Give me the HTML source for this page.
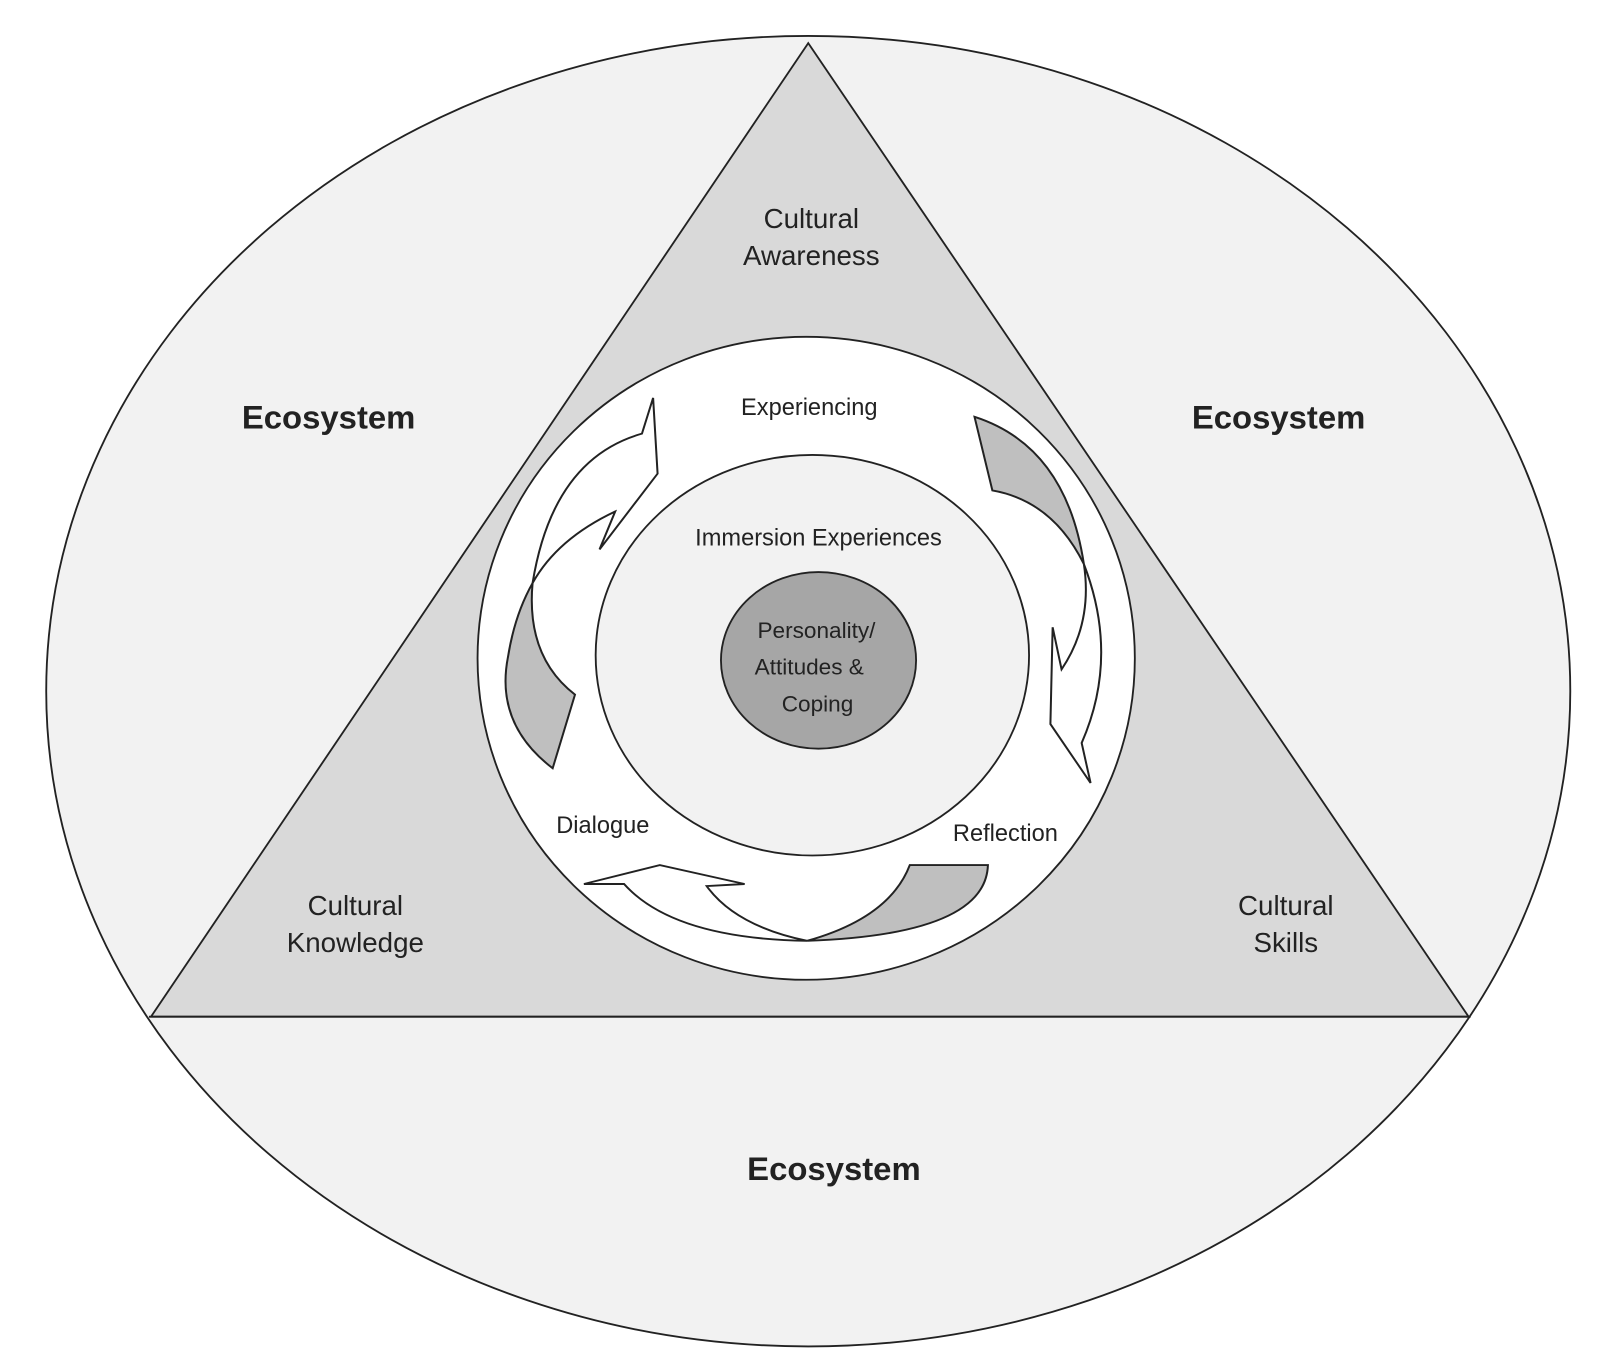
<!DOCTYPE html>
<html><head><meta charset="utf-8"><style>
html,body{margin:0;padding:0;background:#fff;}
svg{display:block;}
text{font-family:"Liberation Sans",sans-serif;fill:#222;text-anchor:middle;}
</style></head><body>
<svg width="1602" height="1368" viewBox="0 0 1602 1368" xmlns="http://www.w3.org/2000/svg">
<g transform="scale(1.027)" stroke="#222" stroke-width="1.8">
  <ellipse cx="787" cy="673" rx="742" ry="638" fill="#f2f2f2"/>
  <polygon points="787,42 147,990 1430,990" fill="#d9d9d9"/>
  <line x1="145" y1="990" x2="1432" y2="990"/>
  <ellipse cx="785" cy="641" rx="320" ry="313" fill="#fff"/>
  <ellipse cx="791" cy="638" rx="211" ry="195" fill="#f2f2f2"/>
  <ellipse cx="797" cy="643" rx="95" ry="86" fill="#a6a6a6"/>
</g>
<g transform="translate(450,320) scale(0.4464,0.4209)" stroke="#222" stroke-width="4.5" stroke-linejoin="miter">
  <path d="M185,625 Q230,330 430,270 L455,185 L465,365 L335,545 L370,455 Q240,520 185,625 Z" fill="#fff"/>
  <path d="M185,625 Q170,800 280,890 L230,1065 Q100,960 130,800 Q145,700 185,625 Z" fill="#bfbfbf"/>
  <path d="M1175,230 Q1380,300 1420,580 Q1350,430 1215,405 Z" fill="#bfbfbf"/>
  <path d="M1420,580 Q1440,720 1370,830 L1350,730 L1345,960 L1435,1100 L1415,1005 Q1500,800 1420,580 Z" fill="#fff"/>
  <path d="M300,1340 L470,1295 L660,1340 L575,1345 Q640,1440 800,1475 Q500,1470 390,1340 Z" fill="#fff"/>
  <path d="M1030,1295 L1205,1295 Q1200,1460 800,1475 Q985,1420 1030,1295 Z" fill="#bfbfbf"/>
</g>
<g transform="scale(1.027)">
  <text x="790" y="222" font-size="27">Cultural</text>
  <text x="790" y="258" font-size="27">Awareness</text>
  <text x="320" y="417" font-size="32" font-weight="bold">Ecosystem</text>
  <text x="1245" y="417" font-size="32" font-weight="bold">Ecosystem</text>
  <text x="812" y="1149" font-size="32" font-weight="bold">Ecosystem</text>
  <text x="788" y="404" font-size="23">Experiencing</text>
  <text x="797" y="531" font-size="23">Immersion Experiences</text>
  <text x="795" y="621" font-size="22">Personality/</text>
  <text x="788" y="657" font-size="22">Attitudes &amp;</text>
  <text x="796" y="693" font-size="22">Coping</text>
  <text x="587" y="811" font-size="23">Dialogue</text>
  <text x="979" y="819" font-size="23">Reflection</text>
  <text x="346" y="891" font-size="27">Cultural</text>
  <text x="346" y="927" font-size="27">Knowledge</text>
  <text x="1252" y="891" font-size="27">Cultural</text>
  <text x="1252" y="927" font-size="27">Skills</text>
</g>
</svg>
</body></html>
